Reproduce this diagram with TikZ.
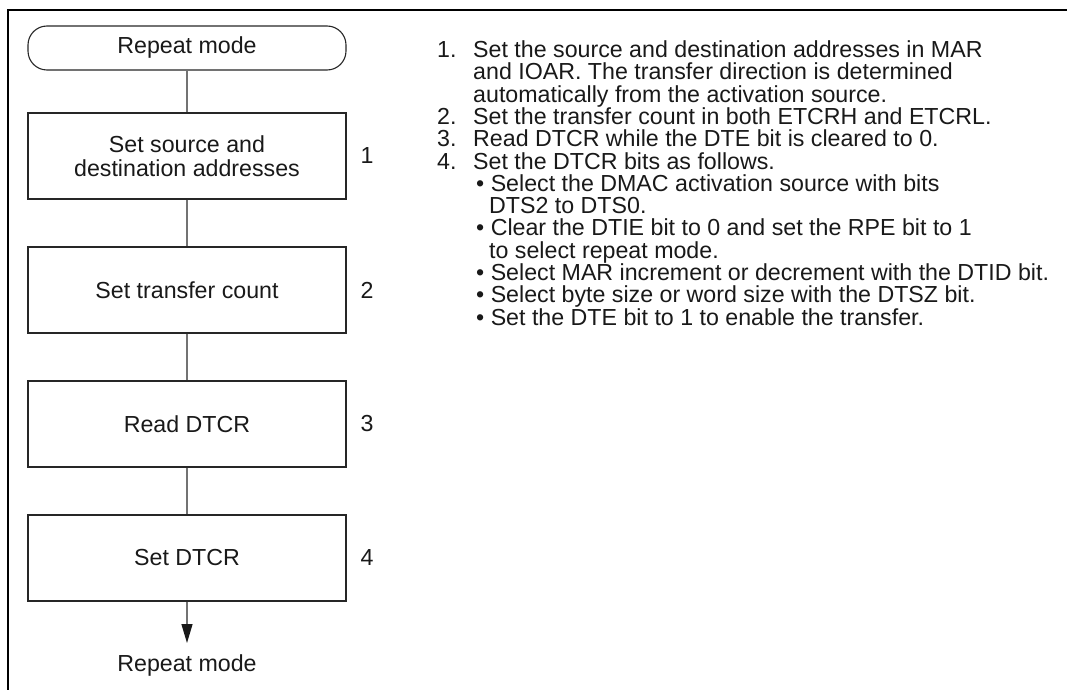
\documentclass[tikz,border=0pt]{standalone}
\usepackage{fontspec}
\setmainfont{Liberation Sans}
\usetikzlibrary{arrows.meta}
\begin{document}
\begin{tikzpicture}[x=1pt, y=-1pt, >={Triangle[length=19pt, width=11pt, color=black!90]},
	every node/.style={font=\fontsize{23.2}{22.3}\selectfont, text=black!90, inner sep=0pt},
	stepbox/.style={draw=black!85, line width=1.1pt, minimum width=318pt, minimum height=86pt, align=center,
		font=\fontsize{23.2}{24}\selectfont},
	termbox/.style={draw=black!85, line width=1.1pt, minimum width=318pt, minimum height=44pt, rounded corners=19pt},
	link/.style={draw=black!55, line width=1.3pt},
	note/.style={anchor=base west}]
	\useasboundingbox (0,0) rectangle (1067,690);
	% Khung
	\draw[line width=2pt] (1067,10) -- (8,10) -- (8,690);
	% Luu do
	\node[termbox] (start) at (187,48) {Repeat mode};
	\node[stepbox] (s1) at (187,156) {Set source and\\destination addresses};
	\node[stepbox] (s2) at (187,290) {Set transfer count};
	\node[stepbox] (s3) at (187,424) {Read DTCR};
	\node[stepbox] (s4) at (187,558) {Set DTCR};
	\coordinate (tip) at (187,643);
	\node (stop) at (187,665) {Repeat mode};
	% So thu tu cac buoc
	\foreach \i/\y in {1/156, 2/290, 3/424, 4/558} {
	\node (k\i) at (367,\y) {\i};
	}
	% Duong noi
	\draw[link] (start) -- (s1);
	\draw[link] (s1) -- (s2);
	\draw[link] (s2) -- (s3);
	\draw[link] (s3) -- (s4);
	\draw[link, ->] (s4) -- (tip);
	% Ghi chu
	\foreach \k/\t in {1/1., 4/2., 5/3., 6/4.} {
	\node[note] (m\k) at (437,{57.5+22.3*(\k-1)}) {\t};
	}
	\foreach \k/\x/\t in {1/473/Set the source and destination addresses in MAR,
		2/473/and IOAR. The transfer direction is determined,
		3/473/automatically from the activation source.,
		4/473/Set the transfer count in both ETCRH and ETCRL.,
		5/473/Read DTCR while the DTE bit is cleared to 0.,
		6/473/Set the DTCR bits as follows.,
		7/476/• Select the DMAC activation source with bits,
		8/489/DTS2 to DTS0.,
		9/476/• Clear the DTIE bit to 0 and set the RPE bit to 1,
		10/489/to select repeat mode.,
		11/476/• Select MAR increment or decrement with the DTID bit.,
		12/476/• Select byte size or word size with the DTSZ bit.,
		13/476/• Set the DTE bit to 1 to enable the transfer.} {
	\node[note] (n\k) at (\x,{57.5+22.3*(\k-1)}) {\t};
	}
\end{tikzpicture}
\end{document}
